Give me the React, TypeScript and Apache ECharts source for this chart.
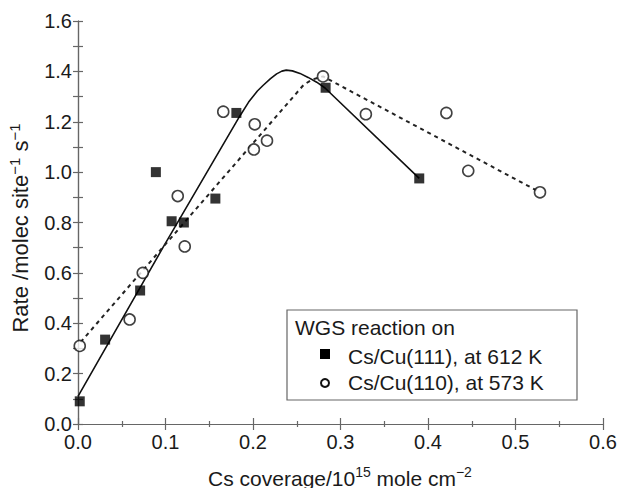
import React, { useEffect, useRef } from "react";
import * as echarts from "echarts";

const xTicks = [0, 0.1, 0.2, 0.3, 0.4, 0.5, 0.6];
const yTicks = [0, 0.2, 0.4, 0.6, 0.8, 1.0, 1.2, 1.4, 1.6];

const seriesNames = ["Cs/Cu(111), at 612 K", "Cs/Cu(110), at 573 K"];
const legendTitle = "WGS reaction on";

// Cs/Cu(111) measured points
const cu111Points: [number, number][] = [
  [0.002, 0.09], [0.031, 0.335], [0.071, 0.53], [0.089, 1.0], [0.107, 0.805],
  [0.121, 0.8], [0.157, 0.895], [0.181, 1.235], [0.283, 1.335], [0.39, 0.975],
];
// Cs/Cu(110) measured points
const cu110Points: [number, number][] = [
  [0.002, 0.31], [0.059, 0.415], [0.074, 0.6], [0.122, 0.705], [0.114, 0.905],
  [0.166, 1.24], [0.202, 1.19], [0.201, 1.09], [0.216, 1.125], [0.28, 1.38],
  [0.329, 1.23], [0.421, 1.235], [0.446, 1.005], [0.528, 0.92],
];
// fitted curves
const cu111Fit: [number, number][] = [
  [0.0, 0.11], [0.097, 0.7], [0.185, 1.223], [0.195, 1.278], [0.205, 1.322],
  [0.2117, 1.345], [0.22, 1.371], [0.227, 1.39], [0.233, 1.401], [0.238, 1.405],
  [0.245, 1.402], [0.2537, 1.392], [0.263, 1.376], [0.2728, 1.357],
  [0.2823, 1.334], [0.39, 0.975],
];
const cu110Fit: [number, number][] = [
  [0.003, 0.325], [0.258, 1.347], [0.268, 1.368], [0.28, 1.38], [0.528, 0.92],
];

const FONT = "'Liberation Sans', Arial, Helvetica, sans-serif";
const AXIS_COLOR = "#666";
const TEXT_COLOR = "#1a1a1a";

export default function App() {
  const ref = useRef<HTMLDivElement>(null);
  useEffect(() => {
    if (!ref.current) return;
    const chart = echarts.init(ref.current, null, { renderer: "svg" });
    const axisCommon = {
      axisLine: { show: true, lineStyle: { color: AXIS_COLOR, width: 1.2 } },
      splitLine: { show: false },
    };
    const xAxisBase = {
      type: "value",
      min: xTicks[0],
      max: xTicks[xTicks.length - 1],
      interval: 0.1,
      ...axisCommon,
      axisTick: { show: true, inside: true, length: 6, lineStyle: { color: AXIS_COLOR, width: 1.2 } },
      minorTick: { show: true, splitNumber: 2, length: 3, lineStyle: { color: AXIS_COLOR, width: 1.2 } },
    };
    const yAxisBase = {
      type: "value",
      min: yTicks[0],
      max: yTicks[yTicks.length - 1],
      interval: 0.2,
      ...axisCommon,
      axisTick: { show: true, inside: true, length: 5, lineStyle: { color: AXIS_COLOR, width: 1.2 } },
      minorTick: { show: true, splitNumber: 2, length: 5, lineStyle: { color: AXIS_COLOR, width: 1.2 } },
    };
    const labelStyle = {
      fontSize: 20,
      fontFamily: FONT,
      color: TEXT_COLOR,
      formatter: (v: number) => v.toFixed(1),
    };
    chart.setOption({
      animation: false,
      grid: { left: 78, right: 18, top: 21, bottom: 64 },
      xAxis: [
        { ...xAxisBase, position: "bottom", axisLabel: { ...labelStyle, margin: 8 } },
        { ...xAxisBase, position: "top", axisLabel: { show: false } },
      ],
      yAxis: [
        { ...yAxisBase, position: "left", axisLabel: { ...labelStyle, margin: 6 } },
        { ...yAxisBase, position: "right", axisLabel: { show: false } },
      ],
      series: [
        {
          name: seriesNames[0] + " fit",
          type: "line",
          data: cu111Fit,
          showSymbol: false,
          symbol: "none",
          lineStyle: { color: "#111", width: 1.6 },
          z: 2,
        },
        {
          name: seriesNames[1] + " fit",
          type: "line",
          data: cu110Fit,
          showSymbol: false,
          symbol: "none",
          lineStyle: { color: "#222", width: 2, type: [4, 4] },
          z: 2,
        },
        {
          name: seriesNames[0],
          type: "scatter",
          data: cu111Points,
          symbol: "rect",
          symbolSize: 10,
          clip: false,
          itemStyle: { color: "#000" },
          z: 4,
        },
        {
          name: seriesNames[1],
          type: "scatter",
          data: cu110Points,
          symbol: "circle",
          symbolSize: 11,
          clip: false,
          itemStyle: { color: "#fff", borderColor: "#111", borderWidth: 1.6 },
          z: 3,
        },
      ],
      graphic: [
        {
          type: "text",
          x: 340,
          y: 478,
          style: {
            text: "Cs coverage/10{s|15} mole cm{s|−2}",
            fontSize: 21,
            fontFamily: FONT,
            fill: TEXT_COLOR,
            align: "center",
            verticalAlign: "middle",
            lineHeight: 26,
            rich: { s: { fontSize: 14, fontFamily: FONT, fill: TEXT_COLOR, verticalAlign: "top", lineHeight: 26 } },
          },
        },
        {
          type: "text",
          x: 20,
          y: 228,
          rotation: Math.PI / 2,
          style: {
            text: "Rate /molec site{s|−1} s{s|−1}",
            fontSize: 22,
            fontFamily: FONT,
            fill: TEXT_COLOR,
            align: "center",
            verticalAlign: "middle",
            lineHeight: 27,
            rich: { s: { fontSize: 15, fontFamily: FONT, fill: TEXT_COLOR, verticalAlign: "top", lineHeight: 27 } },
          },
        },
        {
          type: "group",
          z: 10,
          children: [
            {
              type: "rect",
              shape: { x: 287, y: 310, width: 290, height: 90 },
              style: { fill: "#fff", stroke: AXIS_COLOR, lineWidth: 1.2 },
            },
            {
              type: "text",
              x: 295,
              y: 327,
              style: { text: legendTitle, fontSize: 21, fontFamily: FONT, fill: TEXT_COLOR, verticalAlign: "middle" },
            },
            {
              type: "rect",
              shape: { x: 320, y: 349, width: 10, height: 10 },
              style: { fill: "#000" },
            },
            {
              type: "circle",
              shape: { cx: 325, cy: 383, r: 4 },
              style: { fill: "#fff", stroke: "#111", lineWidth: 2 },
            },
            {
              type: "text",
              x: 348,
              y: 356,
              style: { text: seriesNames[0], fontSize: 21, fontFamily: FONT, fill: TEXT_COLOR, verticalAlign: "middle" },
            },
            {
              type: "text",
              x: 348,
              y: 382,
              style: { text: seriesNames[1], fontSize: 21, fontFamily: FONT, fill: TEXT_COLOR, verticalAlign: "middle" },
            },
          ],
        },
      ],
    });
    return () => chart.dispose();
  }, []);
  return (
    <div
      ref={ref}
      style={{ position: "fixed", left: 0, top: 0, width: 621, height: 488, background: "#fff" }}
    />
  );
}
